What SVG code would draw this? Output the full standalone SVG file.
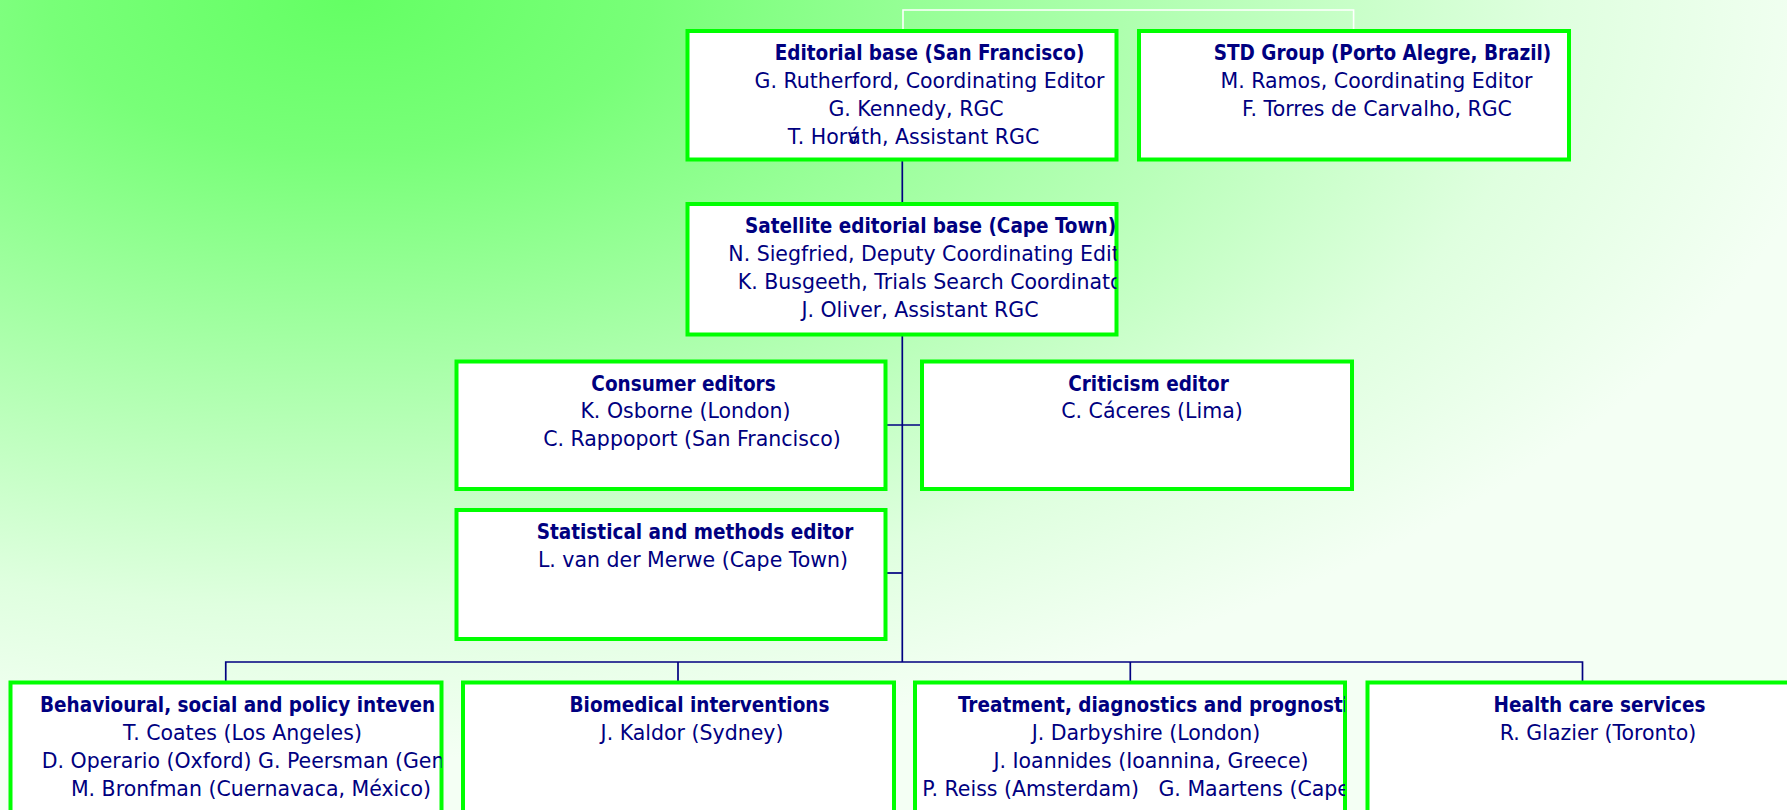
<svg xmlns="http://www.w3.org/2000/svg" width="1787" height="810" viewBox="0 0 1787 810">
<style>
.box{fill:#ffffff;stroke:#00ff00;stroke-width:4}
.conn{fill:none;stroke:#000080;stroke-width:1.7}
.wconn{fill:none;stroke:#ffffff;stroke-width:1.6}
text{font-family:"DejaVu Sans",sans-serif;font-size:20.5px;fill:#000080}
.c{text-anchor:middle}
.b{font-weight:bold;font-family:"DejaVu Sans Condensed","DejaVu Sans",sans-serif;font-stretch:condensed}
</style>
<defs>
<radialGradient id="bg" gradientUnits="userSpaceOnUse" cx="0" cy="0" r="1" gradientTransform="translate(350,0) scale(1500,760)">
<stop offset="0" stop-color="#64ff64"/>
<stop offset="0.2" stop-color="#78ff78"/>
<stop offset="0.48" stop-color="#a8ffa8"/>
<stop offset="0.8" stop-color="#dfffdf"/>
<stop offset="1" stop-color="#f4fff4"/>
</radialGradient>
<clipPath id="c-ed"><rect x="687.5" y="31" width="429" height="128.5"/></clipPath>
<clipPath id="c-std"><rect x="1139" y="31" width="430" height="128.5"/></clipPath>
<clipPath id="c-sat"><rect x="687.5" y="204" width="429" height="130.5"/></clipPath>
<clipPath id="c-con"><rect x="456.5" y="361.5" width="429" height="127.5"/></clipPath>
<clipPath id="c-cri"><rect x="922" y="361.5" width="430" height="127.5"/></clipPath>
<clipPath id="c-sta"><rect x="456.5" y="510" width="429" height="129"/></clipPath>
<clipPath id="c-b1"><rect x="10.5" y="682.5" width="431" height="140"/></clipPath>
<clipPath id="c-b2"><rect x="463" y="682.5" width="431" height="140"/></clipPath>
<clipPath id="c-b3"><rect x="915" y="682.5" width="430" height="140"/></clipPath>
<clipPath id="c-b4"><rect x="1367.5" y="682.5" width="431" height="140"/></clipPath>
</defs>
<rect x="0" y="0" width="1787" height="810" fill="url(#bg)"/>
<g id="connectors">
<path class="wconn" d="M903 31 V10 H1353.6 V31"/>
<path class="conn" d="M902.3 159 V662"/>
<path class="conn" d="M885 425 H922"/>
<path class="conn" d="M885 573 H902.3"/>
<path class="conn" d="M225.75 682 V662 H1582.5 V682"/>
<path class="conn" d="M678 662 V682"/>
<path class="conn" d="M1130.3 662 V682"/>
</g>
<g id="editorial-base">
<rect class="box" x="687.5" y="31" width="429" height="128.5"/>
<g clip-path="url(#c-ed)">
<text class="c b" x="929.5" y="60">Editorial base (San Francisco)</text>
<text class="c" x="929.5" y="88">G. Rutherford, Coordinating Editor</text>
<text class="c" x="916" y="116">G. Kennedy, RGC</text>
<text class="c" x="913.5" y="143.5">T. Horv<tspan dx="-11">á</tspan>th, Assistant RGC</text>
</g>
</g>
<g id="std-group">
<rect class="box" x="1139" y="31" width="430" height="128.5"/>
<g clip-path="url(#c-std)">
<text class="c b" x="1382.5" y="60">STD Group (Porto Alegre, Brazil)</text>
<text class="c" x="1376.5" y="88">M. Ramos, Coordinating Editor</text>
<text class="c" x="1377" y="116">F. Torres de Carvalho, RGC</text>
</g>
</g>
<g id="satellite-base">
<rect class="box" x="687.5" y="204" width="429" height="130.5"/>
<g clip-path="url(#c-sat)">
<text class="b" x="745" y="233">Satellite editorial base (Cape Town)</text>
<text x="728.3" y="261">N. Siegfried, Deputy Coordinating Edit</text>
<text x="737.7" y="289">K. Busgeeth, Trials Search Coordinato</text>
<text class="c" x="920" y="316.5">J. Oliver, Assistant RGC</text>
</g>
</g>
<g id="consumer-editors">
<rect class="box" x="456.5" y="361.5" width="429" height="127.5"/>
<g clip-path="url(#c-con)">
<text class="c b" x="683.5" y="390.5">Consumer editors</text>
<text class="c" x="685.5" y="418">K. Osborne (London)</text>
<text class="c" x="692" y="446">C. Rappoport (San Francisco)</text>
</g>
</g>
<g id="criticism-editor">
<rect class="box" x="922" y="361.5" width="430" height="127.5"/>
<g clip-path="url(#c-cri)">
<text class="c b" x="1148.5" y="390.5">Criticism editor</text>
<text class="c" x="1152" y="418">C. Cáceres (Lima)</text>
</g>
</g>
<g id="statistical-editor">
<rect class="box" x="456.5" y="510" width="429" height="129"/>
<g clip-path="url(#c-sta)">
<text class="c b" x="695" y="539">Statistical and methods editor</text>
<text class="c" x="693" y="567">L. van der Merwe (Cape Town)</text>
</g>
</g>
<g id="behavioural">
<rect class="box" x="10.5" y="682.5" width="431" height="140"/>
<g clip-path="url(#c-b1)">
<text class="b" x="40" y="712">Behavioural, social and policy inteven</text>
<text class="c" x="242.5" y="740">T. Coates (Los Angeles)</text>
<text x="41.7" y="768">D. Operario (Oxford) G. Peersman (Gen</text>
<text class="c" x="251" y="796">M. Bronfman (Cuernavaca, México)</text>
</g>
</g>
<g id="biomedical">
<rect class="box" x="463" y="682.5" width="431" height="140"/>
<g clip-path="url(#c-b2)">
<text class="c b" x="699.5" y="712">Biomedical interventions</text>
<text class="c" x="692" y="740">J. Kaldor (Sydney)</text>
</g>
</g>
<g id="treatment">
<rect class="box" x="915" y="682.5" width="430" height="140"/>
<g clip-path="url(#c-b3)">
<text class="b" x="958" y="712">Treatment, diagnostics and prognosti</text>
<text class="c" x="1146" y="740">J. Darbyshire (London)</text>
<text class="c" x="1151" y="768">J. Ioannides (Ioannina, Greece)</text>
<text x="922.3" y="796" xml:space="preserve">P. Reiss (Amsterdam)   G. Maartens (Cape</text>
</g>
</g>
<g id="health-care">
<rect class="box" x="1367.5" y="682.5" width="431" height="140"/>
<g clip-path="url(#c-b4)">
<text class="c b" x="1599.5" y="712">Health care services</text>
<text class="c" x="1598" y="740">R. Glazier (Toronto)</text>
</g>
</g>
</svg>
